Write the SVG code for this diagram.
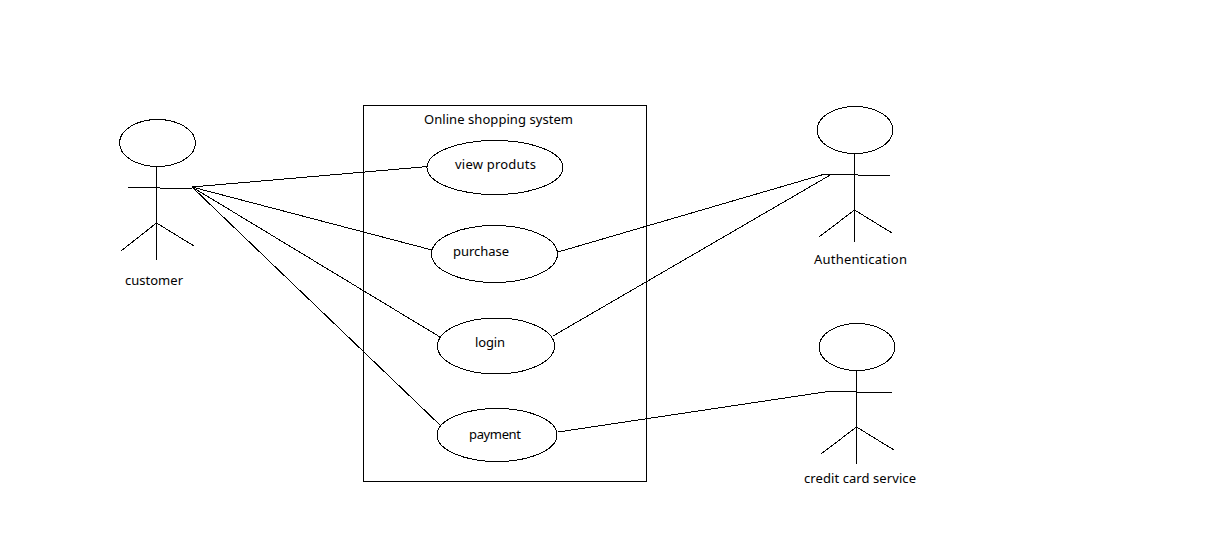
<svg xmlns="http://www.w3.org/2000/svg" width="1222" height="556" viewBox="0 0 1222 556">
<style>
.s{fill:none;stroke:#000;stroke-width:1;shape-rendering:crispEdges}
.e{fill:#fff;stroke:#000;stroke-width:1;shape-rendering:crispEdges}
text{font-family:"Noto Sans","Open Sans",sans-serif;font-size:13px;fill:#000}
</style>
<rect width="1222" height="556" fill="#fff"/>
<g id="system"><rect class="s" x="363.500" y="105.500" width="283" height="376"/><text x="424" y="124" textLength="149">Online shopping system</text></g>
<g id="connectors">
<path class="s" d="M192 187L428 166.500M192 187L432 250M192 187L440 337M192 187L441 426M558 252L825 174M553 336L832 174M558 432L828 391.500"/>
</g>
<g id="customer"><ellipse class="e" cx="157.500" cy="143" rx="38" ry="23.500"/><path class="s" d="M128 187.500H160M160 188.500H192M156.500 166V260M156.500 223L121 251M156.500 223L194 246"/><text x="125" y="285" textLength="58">customer</text></g>
<g id="authentication"><ellipse class="e" cx="855" cy="130" rx="38" ry="23.500"/><path class="s" d="M825 174.500H858M858 175.500H890M854.500 153V242M854.500 210L819 237M854.500 210L892 233"/><text x="814" y="264" textLength="93">Authentication</text></g>
<g id="credit"><ellipse class="e" cx="857" cy="347" rx="38" ry="23.500"/><path class="s" d="M828 391.500H857M857 392.500H892M856.500 370V464M856.500 427L821 454M856.500 427L894 450"/><text x="804" y="483" textLength="112">credit card service</text></g>
<g id="view"><ellipse class="e" cx="495" cy="167.500" rx="68" ry="27"/><text x="455" y="169" textLength="81">view produts</text></g>
<g id="purchase"><ellipse class="e" cx="494.500" cy="254" rx="63" ry="28.500"/><text x="453" y="256" textLength="56">purchase</text></g>
<g id="login"><ellipse class="e" cx="496" cy="346" rx="58.500" ry="28"/><text x="475" y="347" textLength="30">login</text></g>
<g id="payment"><ellipse class="e" cx="497" cy="435" rx="60" ry="26.500"/><text x="469" y="439" textLength="52">payment</text></g>
</svg>
